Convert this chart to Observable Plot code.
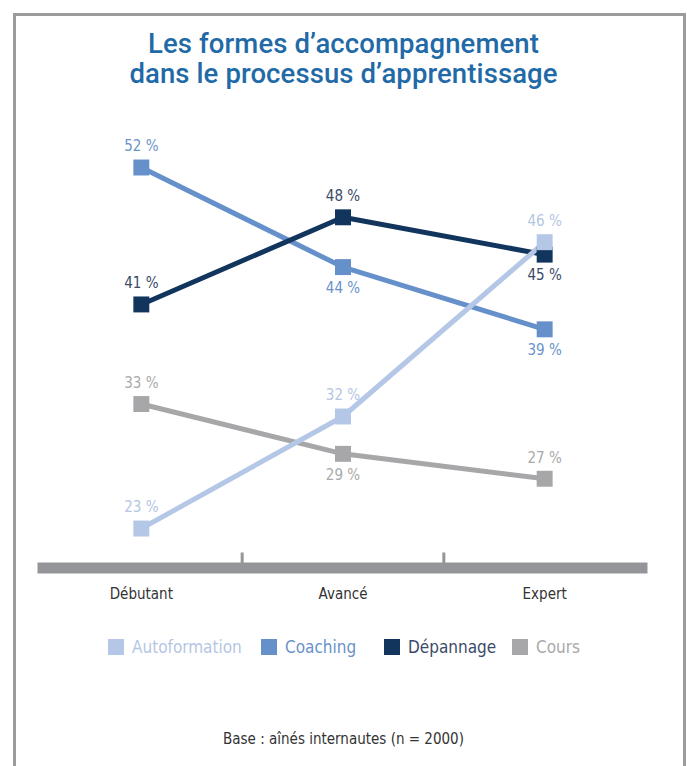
<!DOCTYPE html>
<html>
<head>
<meta charset="utf-8">
<script src="https://cdn.jsdelivr.net/npm/d3@7"></script>
<script src="https://cdn.jsdelivr.net/npm/@observablehq/plot@0.6"></script>
<style>
  body { margin: 0; background: #fff; }
  #wrap { position: relative; width: 687px; height: 766px; overflow: hidden; background: #fff;
          font-family: "DejaVu Sans Condensed", "Roboto", sans-serif; }
  #border { position: absolute; left: 13px; top: 13px; width: 667px; height: 800px;
            border: 3px solid #9b9b9b; border-bottom: none; }
  .title { position: absolute; left: 0; width: 687px; text-align: center; height: 30px;
           font-family: "Roboto", sans-serif; font-weight: 500; font-size: 27.5px; line-height: 30px;
           color: #1f6aa7; letter-spacing: 0.1px; white-space: nowrap; }
  #t1 { top: 29px; }
  #t2 { top: 59px; }
  #chart { position: absolute; top: 110px; left: 0; }
  #legend { position: absolute; top: 637px; left: 0; width: 687px; height: 22px; }
  .item { position: absolute; top: 0; display: flex; align-items: center; font-size: 17px; }
  .sw { width: 16px; height: 16px; margin-right: 8px; }
  #caption { position: absolute; top: 730px; left: 0; width: 687px; text-align: center;
             font-size: 15px; color: #333; }
</style>
</head>
<body>
<div id="wrap">
  <div id="border"></div>
  <div class="title" id="t1">Les formes d’accompagnement</div>
  <div class="title" id="t2">dans le processus d’apprentissage</div>
  <div id="chart"></div>
  <div id="legend"></div>
  <div id="caption">Base : aînés internautes (n = 2000)</div>
</div>
<script>
// ---- data ----
const categories = ["Débutant", "Avancé", "Expert"];
const series = ["Autoformation", "Coaching", "Dépannage", "Cours"];
const autoformation = [23, 32, 46];
const coaching = [52, 44, 39];
const depannage = [41, 48, 45];
const cours = [33, 29, 27];
// label placement relative to each point
const autoformationSide = ["top", "top", "top"];
const coachingSide = ["top", "bottom", "bottom"];
const depannageSide = ["top", "top", "bottom"];
const coursSide = ["top", "bottom", "top"];
const seriesColors = ["#b4c7e6", "#6590c9", "#12355e", "#a7a7a9"];
const labelColors = ["#b4c6e4", "#6a93c9", "#3b4a68", "#a9a9a9"];
const drawOrder = ["Cours", "Coaching", "Dépannage", "Autoformation"];
const legendX = [108, 261, 384, 512];

const valuesBySeries = {Autoformation: autoformation, Coaching: coaching, "Dépannage": depannage, Cours: cours};
const sideBySeries = {Autoformation: autoformationSide, Coaching: coachingSide, "Dépannage": depannageSide, Cours: coursSide};

const rows = [];
for (const s of drawOrder) {
  valuesBySeries[s].forEach((v, i) => rows.push({series: s, i, cat: categories[i], value: v, side: sideBySeries[s][i]}));
}

const W = 687, H = 500, MT = 57, MB = 42.5, ML = 40, MR = 42;
const labelColor = d => labelColors[series.indexOf(d.series)];

const plot = Plot.plot({
  width: W, height: H,
  marginTop: MT, marginBottom: MB, marginLeft: ML, marginRight: MR,
  style: {background: "transparent", fontFamily: "'DejaVu Sans Condensed', sans-serif", fontSize: "15px"},
  x: {type: "linear", domain: [-0.5, categories.length - 0.5], axis: null, label: null},
  y: {domain: [19.83, 52], axis: null},
  color: {domain: series, range: seriesColors},
  marks: [
    Plot.ruleX([0.5, 1.5], {stroke: "#939598", strokeWidth: 3, insetTop: H - MT - MB - 15}),
    Plot.frame({anchor: "bottom", stroke: "#939598", strokeWidth: 11, strokeLinecap: "butt", insetLeft: -3, insetRight: -2}),
    Plot.axisX({ticks: [0, 1, 2], tickFormat: i => categories[i], tickSize: 0, tickPadding: 20,
                fontSize: 15, fill: "#333", stroke: null, label: null}),
    Plot.line(rows, {x: "i", y: "value", z: "series", stroke: "series", strokeWidth: 5, strokeLinejoin: "miter"}),
    Plot.dot(rows, {x: "i", y: "value", fill: "series", symbol: "square", r: 9}),
    Plot.text(rows.filter(d => d.side === "top"), {x: "i", y: "value", text: d => d.value + " %", fill: labelColor, dy: -21, fontSize: 15}),
    Plot.text(rows.filter(d => d.side === "bottom"), {x: "i", y: "value", text: d => d.value + " %", fill: labelColor, dy: 21, fontSize: 15})
  ]
});
document.getElementById("chart").appendChild(plot);

const legend = document.getElementById("legend");
series.forEach((s, k) => {
  const it = document.createElement("div");
  it.className = "item";
  it.style.left = legendX[k] + "px";
  it.style.color = labelColors[k];
  const sw = document.createElement("div");
  sw.className = "sw";
  sw.style.background = seriesColors[k];
  it.appendChild(sw);
  it.appendChild(document.createTextNode(s));
  legend.appendChild(it);
});
</script>
</body>
</html>
